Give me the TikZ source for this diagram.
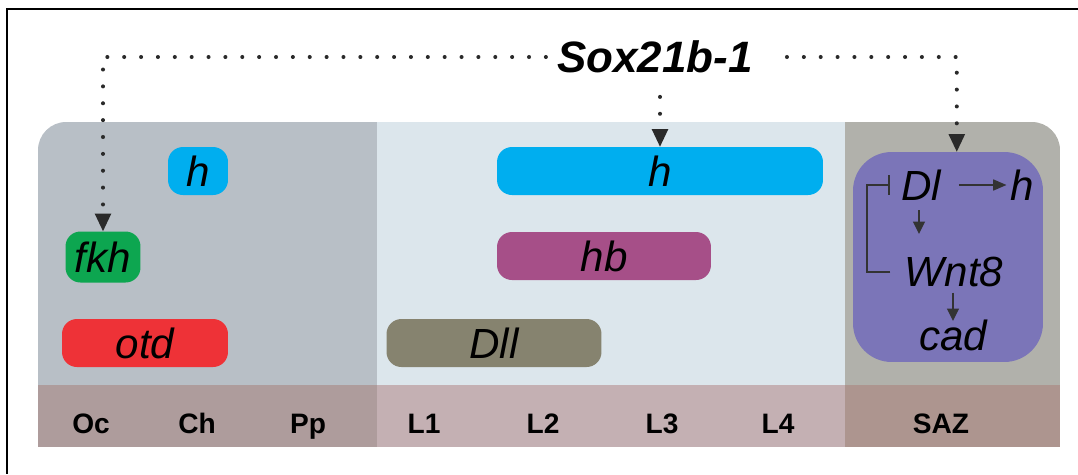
\documentclass[tikz,border=0pt]{standalone}
\usepackage{fontspec}
\setmainfont{Liberation Sans}
\usetikzlibrary{arrows.meta, positioning, calc}

\definecolor{headbg}{HTML}{B8BFC6}
\definecolor{trunkbg}{HTML}{DCE6EC}
\definecolor{sazbg}{HTML}{B1B1AB}
\definecolor{headlab}{HTML}{AE9C9C}
\definecolor{trunklab}{HTML}{C4B0B3}
\definecolor{sazlab}{HTML}{AD958F}
\definecolor{hcol}{HTML}{00AEEF}
\definecolor{fkhcol}{HTML}{0DA650}
\definecolor{otdcol}{HTML}{EE3237}
\definecolor{hbcol}{HTML}{A64F88}
\definecolor{dllcol}{HTML}{86836F}
\definecolor{sazcol}{HTML}{7B75B8}
\definecolor{sigcol}{HTML}{2A2A2A}
\definecolor{linkcol}{HTML}{333333}

\begin{document}
\begin{tikzpicture}[x=0.02cm, y=-0.02cm,
    gene/.style={rounded corners=8.5pt, inner sep=0pt, minimum height=0.96cm,
        font=\fontsize{24}{28}\selectfont\itshape},
    seg/.style={anchor=base, font=\fontsize{16}{19}\selectfont\bfseries},
    net/.style={inner sep=2pt, font=\fontsize{24}{28}\selectfont\itshape},
    sig/.style={draw=sigcol, line width=2.3pt, line cap=round, dash pattern=on 0pt off 9.6pt,
        -{Triangle[width=9.5pt, length=10pt, line width=0pt]}},
    link/.style={draw=linkcol, line width=1.1pt, -{Triangle[width=7pt, length=7pt, line width=0pt]}}]
    \useasboundingbox (0,0) rectangle (1078,474);

    % frame
    \draw[line width=0.8pt] (1078,9) -- (7,9) -- (7,474);

    % body regions
    \begin{scope}
        \clip[rounded corners=16pt] (38,122) rectangle (1060,520);
        \fill[headbg] (38,122) rectangle (377,447);
        \fill[trunkbg] (377,122) rectangle (845,447);
        \fill[sazbg] (845,122) rectangle (1060,447);
        \fill[headlab] (38,385) rectangle (377,447);
        \fill[trunklab] (377,385) rectangle (845,447);
        \fill[sazlab] (845,385) rectangle (1060,447);
    \end{scope}

    % segments
    \node[seg] (oc) at (91,433) {Oc};
    \node[seg] (ch) at (197,433) {Ch};
    \node[seg] (pp) at (308,433) {Pp};
    \node[seg] (l1) at (424,433) {L1};
    \node[seg] (l2) at (543,433) {L2};
    \node[seg] (l3) at (662,433) {L3};
    \node[seg] (l4) at (778,433) {L4};
    \node[seg] (sazlab) at (941,433) {SAZ};

    % expression domains
    \node[gene, fill=hcol, minimum width=1.2cm] (hhead) at (198,171) {h};
    \node[gene, fill=fkhcol, minimum width=1.5cm, minimum height=1.02cm] (fkh) at (103,257) {fkh};
    \node[gene, fill=otdcol, minimum width=3.32cm] (otd) at (145,343) {otd};
    \node[gene, fill=hcol, minimum width=6.52cm] (htrunk) at (660,171) {h};
    \node[gene, fill=hbcol, minimum width=4.28cm] (hb) at (604,256) {hb};
    \node[gene, fill=dllcol, minimum width=4.3cm] (dll) at (494,343) {Dll};
    \node[fill=sazcol, rounded corners=22pt, minimum width=3.8cm, minimum height=4.2cm] (saz) at (948,257) {};

    % posterior network
    \node[net] (dl) at (921,185) {Dl};
    \node[net] (hsaz) at (1022,185) {h};
    \node[net] (wnt) at (954,272) {Wnt8};
    \node[net] (cad) at (953,335) {cad};
    \draw[link, shorten <=8pt, -{Triangle[width=6.5pt, length=7.5pt, line width=0pt]}] (dl.east) -- (hsaz.west);
    \draw[link, shorten <=3.5pt, shorten >=11pt] (dl.south -| 919,0) -- (wnt.north -| 919,0);
    \draw[link, shorten <=1pt, shorten >=-3pt] (wnt.south -| 953,0) -- (cad.north);
    \draw[draw=linkcol, line width=1.1pt, -{Bar[width=11pt]}] ([xshift=-6pt]wnt.west) -- ++(-23,0) |- ([xshift=-4pt]dl.west);

    % Sox21b-1 inputs
    \node[font=\fontsize{25}{30}\selectfont\bfseries\itshape] (sox) at (655,57) {Sox21b-1};
    \draw[sig] ([xshift=-3pt]sox.west) -| (fkh.north);
    \draw[sig] ([yshift=-10pt]sox.south -| htrunk.north) -- (htrunk.north);
    \draw[sig] ([xshift=16pt]sox.east) -| ([xshift=5pt]saz.north);
\end{tikzpicture}
\end{document}
